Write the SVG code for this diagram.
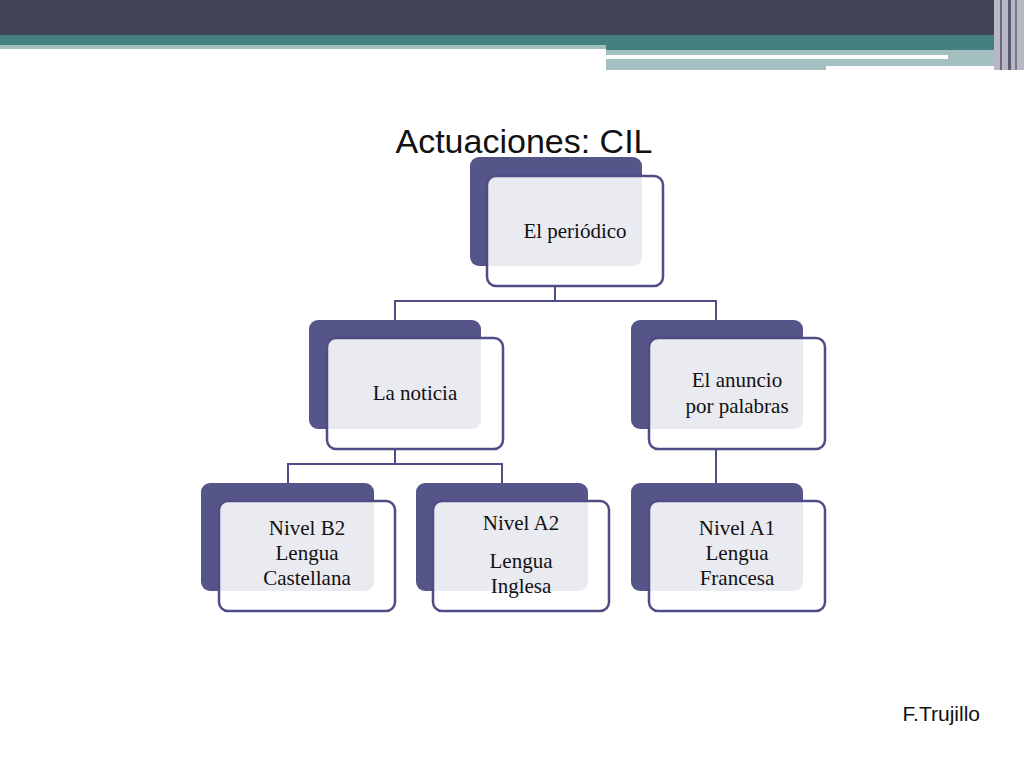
<svg xmlns="http://www.w3.org/2000/svg" width="1024" height="768" viewBox="0 0 1024 768">
<style>
.bk{fill:#55558a}
.fr{fill:#ffffff;fill-opacity:0.88;stroke:#4f4d85;stroke-width:2.5}
.t{font-family:"Liberation Serif","DejaVu Serif",serif;font-size:21px;fill:#111;text-anchor:middle}
.c{fill:none;stroke:#4f4d85;stroke-width:2}
</style>
<rect width="1024" height="768" fill="#fff"/>
<g id="header">
<rect x="0" y="0" width="1024" height="35" fill="#424258"/>
<rect x="0" y="35" width="1024" height="10" fill="#43807f"/>
<rect x="606" y="45" width="400" height="5" fill="#43807f"/>
<rect x="0" y="45" width="606" height="4" fill="#a3bfc0"/>
<rect x="606" y="50" width="400" height="20" fill="#a3bfc0"/>
<rect x="606" y="55" width="342" height="4" fill="#fff"/>
<rect x="826" y="66" width="180" height="4" fill="#fff"/>
<rect x="994" y="0" width="30" height="70" fill="#b8b8c4"/>
<rect x="1000" y="0" width="2" height="70" fill="#6a6a80"/>
<rect x="1008" y="0" width="3" height="70" fill="#5a5a70"/>
<rect x="1015" y="0" width="2" height="70" fill="#7a7a90"/>
</g>
<text x="524" y="153" font-family="Liberation Sans,Arial,sans-serif" font-size="34" text-anchor="middle" fill="#111">Actuaciones: CIL</text>
<g id="connectors">
<path class="c" d="M555 286V301M395 320V301H716V320"/>
<path class="c" d="M395 449V464M288 483V464H502V483"/>
<path class="c" d="M716 449V483"/>
</g>
<g id="root"><rect class="bk" x="470" y="157" width="172" height="109" rx="9"/><rect class="fr" x="487" y="176" width="176" height="110" rx="9"/><text class="t" x="575" y="238">El periódico</text></g>
<g id="noticia"><rect class="bk" x="309" y="320" width="172" height="109" rx="9"/><rect class="fr" x="327" y="338" width="176" height="111" rx="9"/><text class="t" x="415" y="400">La noticia</text></g>
<g id="anuncio"><rect class="bk" x="631" y="320" width="172" height="109" rx="9"/><rect class="fr" x="649" y="338" width="176" height="111" rx="9"/><text class="t" x="737" y="387">El anuncio</text><text class="t" x="737" y="413">por palabras</text></g>
<g id="b2"><rect class="bk" x="201" y="483" width="173" height="108" rx="9"/><rect class="fr" x="219" y="501" width="176" height="110" rx="9"/><text class="t" x="307" y="535">Nivel B2</text><text class="t" x="307" y="560">Lengua</text><text class="t" x="307" y="585">Castellana</text></g>
<g id="a2"><rect class="bk" x="416" y="483" width="172" height="108" rx="9"/><rect class="fr" x="433" y="501" width="176" height="110" rx="9"/><text class="t" x="521" y="530">Nivel A2</text><text class="t" x="521" y="568">Lengua</text><text class="t" x="521" y="593">Inglesa</text></g>
<g id="a1"><rect class="bk" x="631" y="483" width="172" height="108" rx="9"/><rect class="fr" x="649" y="501" width="176" height="110" rx="9"/><text class="t" x="737" y="535">Nivel A1</text><text class="t" x="737" y="560">Lengua</text><text class="t" x="737" y="585">Francesa</text></g>
<text x="980" y="721" font-family="Liberation Sans,Arial,sans-serif" font-size="21" text-anchor="end" fill="#111">F.Trujillo</text>
</svg>
